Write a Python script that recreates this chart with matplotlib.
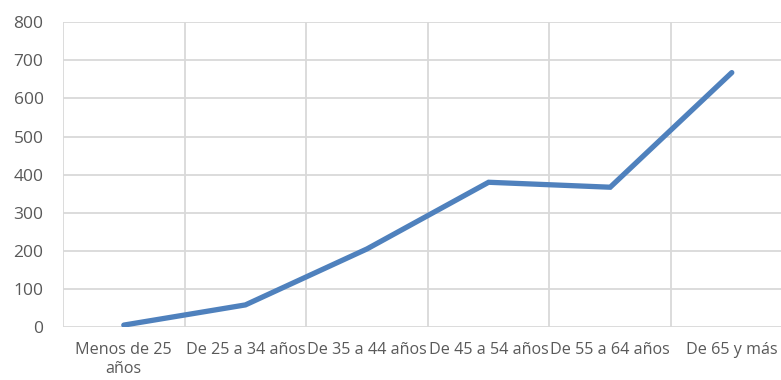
import matplotlib
matplotlib.use("Agg")
import matplotlib.pyplot as plt
import numpy as np

categories = ["Menos de 25\naños", "De 25 a 34 años", "De 35 a 44 años",
              "De 45 a 54 años", "De 55 a 64 años", "De 65 y más"]
values = [5, 58, 205, 380, 367, 668]
yticks = [0, 100, 200, 300, 400, 500, 600, 700, 800]

plt.rcParams['font.family'] = ['Open Sans', 'DejaVu Sans']

W, H = 781, 380
fig = plt.figure(figsize=(W / 100, H / 100), dpi=100)
left, right = 63 / W, 792.6 / W
bottom, top = (H - 327) / H, (H - 22.3) / H
ax = fig.add_axes([left, bottom, right - left, top - bottom])

x = np.arange(len(categories))
ax.plot(x, values, color='#4F81BD', linewidth=3.8, solid_capstyle='round',
        solid_joinstyle='miter', zorder=3)

ax.set_xlim(-0.5, len(categories) - 0.5)
ax.set_ylim(0, 800)
ax.set_yticks(yticks)
ax.set_yticklabels([str(v) for v in yticks])
ax.set_xticks(x)
ax.set_xticklabels(categories)
ax.set_xticks(np.arange(-0.5, len(categories) + 0.5, 1), minor=True)

ax.grid(True, which='major', axis='y', color='#D9D9D9', linewidth=1.3)
ax.grid(True, which='minor', axis='x', color='#D9D9D9', linewidth=1.3)
ax.set_axisbelow(True)
for s in ax.spines.values():
    s.set_visible(False)
ax.tick_params(axis='both', which='both', length=0, colors='#595959')
ax.tick_params(axis='y', labelsize=12.5, pad=14)
ax.tick_params(axis='x', labelsize=11.6, pad=11)
for lbl in ax.get_xticklabels():
    lbl.set_linespacing(1.25)

fig.savefig("out.png", dpi=100)
